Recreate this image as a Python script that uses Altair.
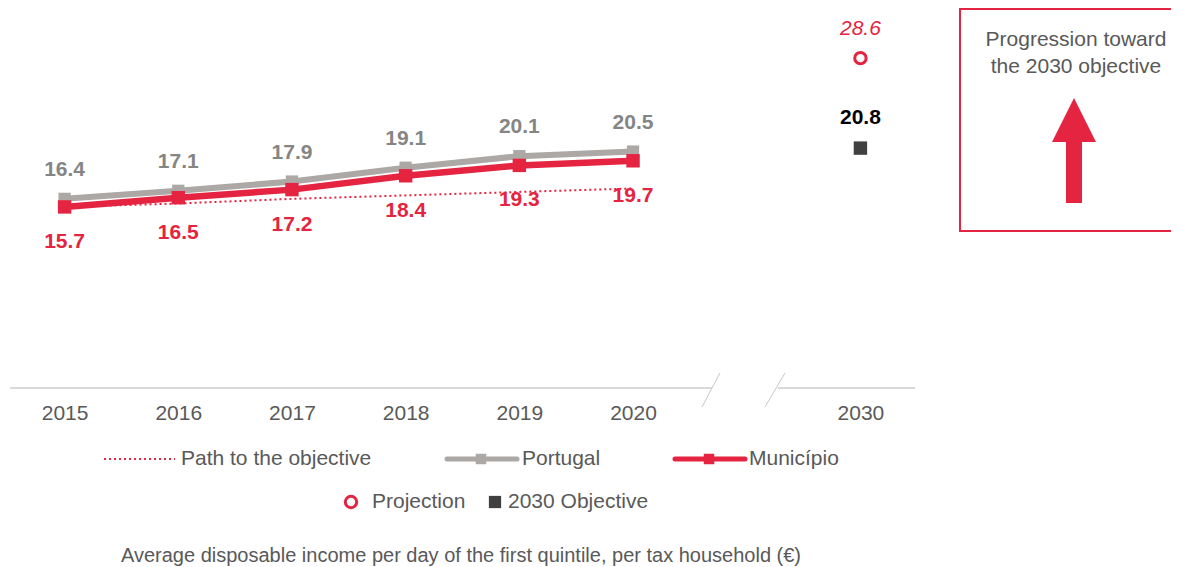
import altair as alt
import pandas as pd

# ---------------- data ----------------
years = ["2015", "2016", "2017", "2018", "2019", "2020"]
portugal = [16.4, 17.1, 17.9, 19.1, 20.1, 20.5]
municipio = [15.7, 16.5, 17.2, 18.4, 19.3, 19.7]
path_values = [15.7, 16.0, 16.4, 16.7, 17.0, 17.3]
target_year = "2030"
projection_value = 28.6
objective_value = 20.8
x_domain = years + ["gap", target_year]

RED = "#E42440"
GRAY = "#ABA8A6"
LABEL_GRAY = "#858585"
TEXT = "#595959"
DARK = "#404040"
FONT = "Liberation Sans"

df_pt = pd.DataFrame({"year": years, "value": portugal})
df_mu = pd.DataFrame({"year": years, "value": municipio})
df_path = pd.DataFrame({"year": years, "value": path_values})
df_proj = pd.DataFrame({"year": [target_year], "value": [projection_value]})
df_obj = pd.DataFrame({"year": [target_year], "value": [objective_value]})
one = pd.DataFrame({"k": [0]})

xscale = alt.Scale(domain=x_domain, type="point", padding=0.48)
yscale = alt.Scale(domain=[0, 30], nice=False, zero=True)

xaxis = alt.Axis(
    domain=False, ticks=False, grid=False, labelAngle=0, title=None,
    labelFont=FONT, labelFontSize=21, labelColor=TEXT, labelPadding=14,
    labelExpr="datum.value == 'gap' ? '' : datum.value",
)


def X():
    return alt.X("year:O", scale=xscale, axis=xaxis, title=None, sort=x_domain)


Y = alt.Y("value:Q", scale=yscale, axis=None)

path_line = alt.Chart(df_path).mark_line(
    color=RED, strokeWidth=2, strokeDash=[2, 3]
).encode(x=X(), y=Y)

pt_line = alt.Chart(df_pt).mark_line(color=GRAY, strokeWidth=6).encode(x=X(), y=Y)
pt_pts = alt.Chart(df_pt).mark_square(color=GRAY, size=150, opacity=1).encode(x=X(), y=Y)
pt_lbl = alt.Chart(df_pt).mark_text(
    font=FONT, fontSize=21, fontWeight="bold", color=LABEL_GRAY, dy=-29, baseline="middle"
).encode(x=X(), y=Y, text=alt.Text("value:Q", format=".1f"))

mu_line = alt.Chart(df_mu).mark_line(color=RED, strokeWidth=6.5).encode(x=X(), y=Y)
mu_pts = alt.Chart(df_mu).mark_square(color=RED, size=180, opacity=1).encode(x=X(), y=Y)
mu_lbl = alt.Chart(df_mu).mark_text(
    font=FONT, fontSize=21, fontWeight="bold", color=RED, dy=35, baseline="middle"
).encode(x=X(), y=Y, text=alt.Text("value:Q", format=".1f"))

proj_pt = alt.Chart(df_proj).mark_point(
    shape="circle", filled=False, color=RED, strokeWidth=3, size=130, opacity=1
).encode(x=X(), y=Y)
proj_lbl = alt.Chart(df_proj).mark_text(
    font=FONT, fontSize=21, fontStyle="italic", color=RED, dy=-29, baseline="middle"
).encode(x=X(), y=Y, text=alt.Text("value:Q", format=".1f"))

obj_pt = alt.Chart(df_obj).mark_square(color=DARK, size=180, opacity=1).encode(x=X(), y=Y)
obj_lbl = alt.Chart(df_obj).mark_text(
    font=FONT, fontSize=21, fontWeight="bold", color="black", dy=-30, baseline="middle"
).encode(x=X(), y=Y, text=alt.Text("value:Q", format=".1f"))

# ---------------- decorations (pixel positions in plot area) ----------------
base = alt.Chart(one)


def rule(x, x2, y, y2, color, width, dash=None, cap="butt"):
    kw = dict(color=color, strokeWidth=width, strokeCap=cap)
    if dash:
        kw["strokeDash"] = dash
    return base.mark_rule(**kw).encode(
        x=alt.value(x), x2=alt.value(x2), y=alt.value(y), y2=alt.value(y2)
    )


def txt(x, y, s, size=21, align="left", color=TEXT, weight="normal"):
    return base.mark_text(
        font=FONT, fontSize=size, align=align, baseline="middle", color=color,
        fontWeight=weight, text=s,
    ).encode(x=alt.value(x), y=alt.value(y))


def sq(x, y, color, size):
    return base.mark_square(color=color, size=size, opacity=1).encode(
        x=alt.value(x), y=alt.value(y)
    )


AX = "#D9D9D9"
axis_parts = [
    rule(0, 702, 346, 346, AX, 2),
    rule(768, 905, 346, 346, AX, 2),
    rule(692, 710, 365, 331, "#C8C8C8", 1),
    rule(755, 775, 365, 331, "#C8C8C8", 1),
]

L1, L2 = 417, 460
legend = [
    rule(94, 165, L1, L1, RED, 2, dash=[2, 3]),
    txt(171, L1, "Path to the objective"),
    rule(437, 507, L1, L1, GRAY, 5, cap="round"),
    sq(471, L1, GRAY, 110),
    txt(512, L1, "Portugal"),
    rule(665, 735, L1, L1, RED, 5, cap="round"),
    sq(699, L1, RED, 110),
    txt(739, L1, "Município"),
    base.mark_point(shape="circle", filled=False, color=RED, strokeWidth=3,
                    size=130, opacity=1).encode(x=alt.value(341), y=alt.value(L2)),
    txt(362, L2, "Projection"),
    sq(485, L2, DARK, 150),
    txt(498, L2, "2030 Objective"),
    txt(451, 514, "Average disposable income per day of the first quintile, per tax household (€)",
        size=20, align="center"),
]

BOX_R = 1161
box = [
    rule(950, BOX_R, -33, -33, RED, 2),
    rule(950, 950, -34, 190, RED, 2),
    rule(950, BOX_R, 189, 189, RED, 2),
    txt(1066, -2, "Progression toward", align="center"),
    txt(1066, 25, "the 2030 objective", align="center"),
    base.mark_point(shape="M0,-1L1,1L-1,1Z", filled=True, color=RED, size=1936,
                    opacity=1, strokeWidth=0).encode(x=alt.value(1064), y=alt.value(78)),
    base.mark_rect(color=RED).encode(
        x=alt.value(1056), x2=alt.value(1072), y=alt.value(99), y2=alt.value(161)
    ),
]

chart = alt.layer(
    *axis_parts,
    path_line, pt_line, pt_pts, mu_line, mu_pts,
    pt_lbl, mu_lbl, proj_pt, proj_lbl, obj_pt, obj_lbl,
    *legend, *box,
).properties(
    width=905, height=346,
    autosize=alt.AutoSizeParams(type="none"),
    padding={"left": 2, "top": 34, "right": 256, "bottom": 179},
    background="white",
).configure_view(stroke=None)

chart.save("out.html", embed_options={"renderer": "svg", "actions": False})
